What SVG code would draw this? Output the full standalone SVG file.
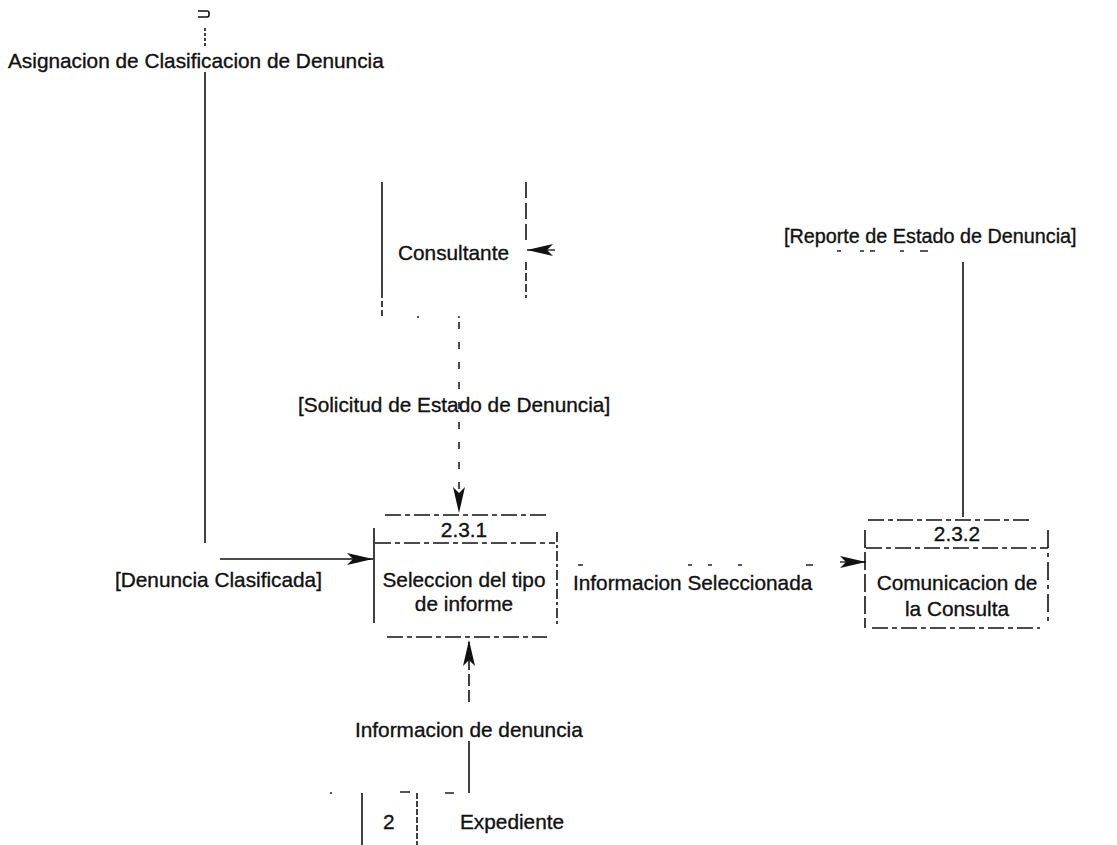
<svg xmlns="http://www.w3.org/2000/svg" width="1117" height="845" viewBox="0 0 1117 845">
  <defs>
    <style>
      .lbl { font-family: "Liberation Sans", Arial, sans-serif; font-size: 20.8px; fill: #111; stroke: #111; stroke-width: 0.35px; }
      .mid { text-anchor: middle; }
      .ln { stroke: #111; stroke-width: 1.6; fill: none; }
      .dash { stroke: #111; stroke-width: 1.5; fill: none; stroke-dasharray: 16 4 5 4; }
      .sparse { stroke: #111; stroke-width: 1.5; fill: none; stroke-dasharray: 7 13; }
      .frag { stroke: #222; stroke-width: 1.4; fill: none; }
    </style>
    <marker id="arrow" viewBox="0 0 26 12" refX="26" refY="6" markerWidth="26" markerHeight="12" markerUnits="userSpaceOnUse" orient="auto">
      <path d="M0 0 L26 6 L0 12 L6 6 Z" fill="#111"/>
    </marker>
  </defs>
  <rect width="1117" height="845" fill="#fff"/>

  <!-- data flows -->
  <g id="connectors">
    <!-- Asignacion de Clasificacion de Denuncia -> 2.3.1 -->
    <path class="ln" d="M198 11 H207 Q209 11 209 13 V15 Q209 17 207 17 H198"/>
    <path class="ln" d="M205 28 V46" stroke-dasharray="3 2"/>
    <path class="ln" d="M205 72 V543"/>
    <path class="ln" d="M220 559 H373" marker-end="url(#arrow)"/>

    <!-- Consultante -> 2.3.1 -->
    <path class="sparse" d="M459 322 V513" marker-end="url(#arrow)"/>

    <!-- Expediente -> 2.3.1 -->
    <path class="ln" d="M469 793 V741"/>
    <path class="ln" d="M469 702 V640" stroke-dasharray="12 4" marker-end="url(#arrow)"/>

    <!-- 2.3.1 -> 2.3.2 -->
    <path class="frag" d="M578 565 h5 M688 565 h4 M708 565 h4 M738 565 h4 M806 565 h7"/>
    <path class="frag" d="M840 562 L866 562" marker-end="url(#arrow)"/>

    <!-- 2.3.2 -> Consultante -->
    <path class="ln" d="M963 262 V517"/>
    <path class="frag" d="M837 251 h4 M860 251 h4 M870 251 h5 M900 251 h4 M920 251 h8"/>
    <path class="frag" d="M555 250 L527 250" marker-end="url(#arrow)"/>
  </g>

  <!-- external entity -->
  <g id="consultante">
    <path class="ln" d="M382 182 V292"/>
    <path class="ln" d="M382 292 V317" stroke-dasharray="6 3"/>
    <path class="ln" d="M526 182 V240" stroke-dasharray="16 5"/>
    <path class="ln" d="M526 262 V298" stroke-dasharray="8 3"/>
    <path class="frag" d="M417 317 h2 M458 317 h2"/>
    <text class="lbl" x="398" y="260">Consultante</text>
  </g>

  <!-- process 2.3.1 -->
  <g id="p231">
    <path class="dash" d="M385 515 H548"/>
    <path class="dash" d="M375 543 H555"/>
    <path class="ln" d="M374 528 V623"/>
    <path class="ln" d="M557 532 V627" stroke-dasharray="10 3 3 3"/>
    <path class="dash" d="M387 637 H547"/>
    <text class="lbl mid" x="464" y="537">2.3.1</text>
    <text class="lbl mid" x="464" y="587">Seleccion del tipo</text>
    <text class="lbl mid" x="464" y="611">de informe</text>
  </g>

  <!-- process 2.3.2 -->
  <g id="p232">
    <path class="dash" d="M868 520 H1032"/>
    <path class="dash" d="M866 548 H1048"/>
    <path class="ln" d="M865 530 V628" stroke-dasharray="18 4"/>
    <path class="ln" d="M1048 530 V625" stroke-dasharray="18 5 4 5"/>
    <path class="dash" d="M872 628 H1040"/>
    <text class="lbl mid" x="957" y="541">2.3.2</text>
    <text class="lbl mid" x="957" y="590">Comunicacion de</text>
    <text class="lbl mid" x="957" y="616">la Consulta</text>
  </g>

  <!-- data store -->
  <g id="expediente">
    <path class="ln" d="M362 793 V845"/>
    <path class="ln" d="M417 793 V845" stroke-dasharray="6 2"/>
    <path class="frag" d="M330 793 h2 M400 792 h10 M445 793 h9"/>
    <text class="lbl" x="383" y="829">2</text>
    <text class="lbl" x="460" y="829">Expediente</text>
  </g>

  <!-- flow labels -->
  <g id="labels">
    <text class="lbl" x="8" y="68">Asignacion de Clasificacion de Denuncia</text>
    <text class="lbl" x="115" y="587">[Denuncia Clasificada]</text>
    <text class="lbl" x="298" y="412">[Solicitud de Estado de Denuncia]</text>
    <text class="lbl" x="784" y="243" style="font-size:19.8px">[Reporte de Estado de Denuncia]</text>
    <text class="lbl" x="573" y="590">Informacion Seleccionada</text>
    <text class="lbl" x="355" y="737">Informacion de denuncia</text>
  </g>
</svg>
